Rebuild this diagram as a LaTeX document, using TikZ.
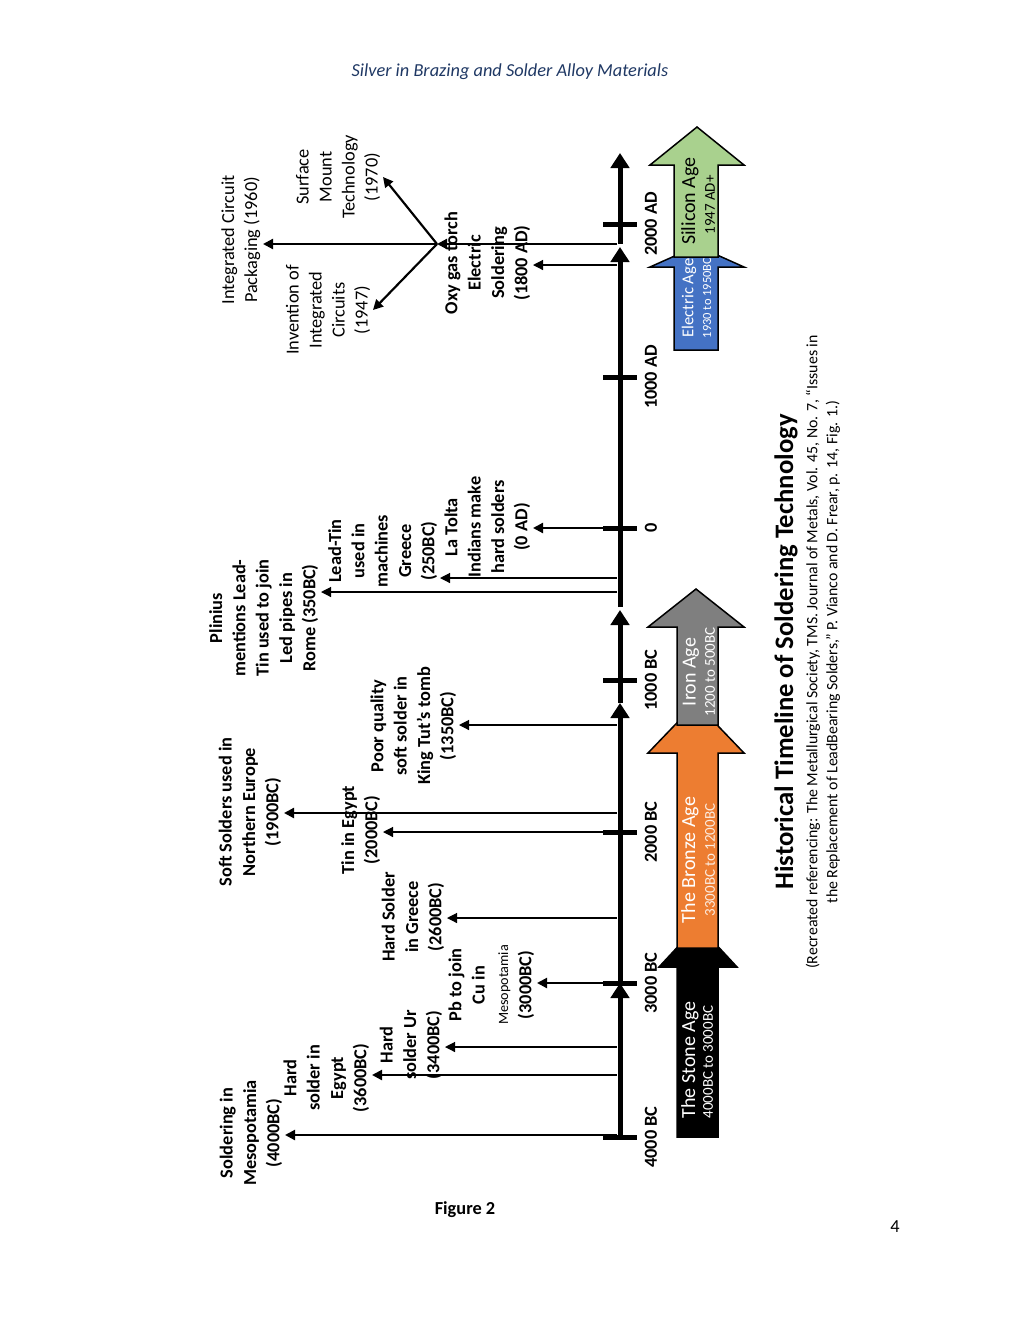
\documentclass[tikz,border=0pt]{standalone}
\usepackage{fontspec}
\setmainfont{Carlito}
\usetikzlibrary{arrows.meta}

\definecolor{bronze}{HTML}{ED7D31}
\definecolor{iron}{HTML}{7F7F7F}
\definecolor{electric}{HTML}{4472C4}
\definecolor{silicon}{HTML}{A9D18E}
\definecolor{headblue}{HTML}{1F3864}

\tikzset{
  axisseg/.style={line width=3pt,-{Triangle[length=9pt,width=11pt]}},
  tickmark/.style={line width=3pt},
  ticklbl/.style={rotate=90,font=\bfseries\fontsize{11}{13}\selectfont},
  evt/.style={line width=0.7pt,-{Triangle[length=6pt,width=6pt]}},
  evtthick/.style={line width=1.3pt,-{Triangle[length=6pt,width=6pt]}},
  lbl/.style={rotate=90,anchor=south,align=center,inner sep=1.5pt,
    font=\bfseries\fontsize{11}{14}\selectfont},
  lblreg/.style={lbl,font=\fontsize{11}{13.8}\selectfont},
  agebox/.style={draw=black,line width=0.9pt},
  agetxt/.style={rotate=90,text=white,font=\fontsize{12}{14}\selectfont},
  agesub/.style={rotate=90,text=white,font=\fontsize{9}{11}\selectfont},
}

\begin{document}
\begin{tikzpicture}[x=0.6pt,y=-0.6pt,line join=miter]
  \useasboundingbox (0,0) rectangle (1020,1320);

  % page furniture
  \node[text=headblue,font=\itshape\fontsize{11}{13}\selectfont] (head) at (510,72)
    {Silver in Brazing and Solder Alloy Materials};
  \node[font=\bfseries\fontsize{11}{13}\selectfont] (fig) at (465,1210) {Figure 2};
  \node[font=\fontsize{11}{13}\selectfont] (page) at (895,1227) {4};

  % time axis
  \draw[axisseg] (620,1137) -- (620,983);
  \draw[axisseg] (620,983) -- (620,703);
  \draw[axisseg] (620,703) -- (620,610);
  \draw[axisseg] (620,607) -- (620,247);
  \draw[axisseg] (620,244) -- (620,153);
  \foreach \yy/\txt in {1137/4000 BC,983/3000 BC,832/2000 BC,680/1000 BC,
      528/0,377/1000 AD,224/2000 AD}{
    \draw[tickmark] (603,\yy) -- (637,\yy);
    \node[ticklbl] (tk\yy) at (651,\yy) {\txt};
  }

  % ages
  \filldraw[agebox,fill=black] (677,1137) -- (677,967) -- (659,967) -- (698,925)
    -- (737,967) -- (718,967) -- (718,1137) -- cycle;
  \node[agetxt] (stone) at (690,1060) {The Stone Age};
  \node[agesub] (stonesub) at (708,1062) {4000BC to 3000BC};
  \filldraw[agebox,fill=bronze] (677,948) -- (677,753) -- (648,753) -- (696,703)
    -- (744,753) -- (718,753) -- (718,948) -- cycle;
  \node[agetxt] (bronzeage) at (690,860) {The Bronze Age};
  \node[agesub,text=white!85!bronze] (bronzesub) at (710,860) {3300BC to 1200BC};
  \filldraw[agebox,fill=iron] (677,725) -- (677,627) -- (648,627) -- (696,589)
    -- (744,627) -- (718,627) -- (718,725) -- cycle;
  \node[agetxt] (ironage) at (691,672) {Iron Age};
  \node[agesub] (ironsub) at (710,672) {1200 to 500BC};
  \filldraw[agebox,fill=electric] (674,350) -- (674,267) -- (650,267) -- (697,246)
    -- (744,267) -- (718,267) -- (718,350) -- cycle;
  \node[agetxt,font=\fontsize{10}{12}\selectfont] (elec) at (689,298) {Electric Age};
  \node[agesub,font=\fontsize{7.5}{9}\selectfont] (elecsub) at (707,298) {1930 to 1950BC};
  \filldraw[agebox,fill=silicon] (674,257) -- (674,165) -- (650,165) -- (697,127)
    -- (744,165) -- (718,165) -- (718,257) -- cycle;
  \node[agetxt,text=black] (sili) at (690,201) {Silicon Age};
  \node[agesub,text=black] (silisub) at (710,205) {1947 AD+};

  % events BC
  \coordinate (a4000) at (617,1135);
  \node[lbl] (l4000) at (285,1133) {Soldering in\\Mesopotamia\\(4000BC)};
  \draw[evtthick] (a4000) -- (a4000 -| l4000.south);
  \coordinate (a3600) at (617,1075);
  \node[lbl] (l3600) at (372,1078) {Hard\\solder in\\Egypt\\(3600BC)};
  \draw[evtthick] (a3600) -- (a3600 -| l3600.south);
  \coordinate (a3400) at (617,1047);
  \node[lbl] (l3400) at (445,1045) {Hard\\solder Ur\\(3400BC)};
  \draw[evt] (a3400) -- (a3400 -| l3400.south);
  \coordinate (a3000) at (617,983);
  \node[lbl] (l3000) at (537,985)
    {Pb to join\\Cu in\\{\mdseries\fontsize{8.5}{10}\selectfont Mesopotamia}\\(3000BC)};
  \draw[evtthick] (a3000) -- (a3000 -| l3000.south);
  \coordinate (a2600) at (617,918);
  \node[lbl] (l2600) at (447,917) {Hard Solder\\in Greece\\(2600BC)};
  \draw[evt] (a2600) -- (a2600 -| l2600.south);
  \coordinate (a2000) at (617,832);
  \node[lbl] (l2000) at (383,830) {Tin in Egypt\\(2000BC)};
  \draw[evt] (a2000) -- (a2000 -| l2000.south);
  \coordinate (a1900) at (617,813);
  \node[lbl] (l1900) at (284,812) {Soft Solders used in\\Northern Europe\\(1900BC)};
  \draw[evtthick] (a1900) -- (a1900 -| l1900.south);
  \coordinate (a1350) at (617,725);
  \node[lbl] (l1350) at (459,726) {Poor quality\\soft solder in\\King Tut’s tomb\\(1350BC)};
  \draw[evt] (a1350) -- (a1350 -| l1350.south);
  \coordinate (a350) at (617,592);
  \node[lbl] (l350) at (321,618)
    {Plinius\\mentions Lead-\\Tin used to join\\Led pipes in\\Rome (350BC)};
  \draw[evt] (a350) -- (a350 -| l350.south);
  \coordinate (a250) at (617,578);
  \node[lbl] (l250) at (440,551) {Lead-Tin\\used in\\machines\\Greece\\(250BC)};
  \draw[evt] (a250) -- (a250 -| l250.south);

  % events AD
  \coordinate (a0) at (617,528);
  \node[lbl] (l0) at (533,527) {La Tolta\\Indians make\\hard solders\\(0 AD)};
  \draw[evtthick] (a0) -- (a0 -| l0.south);
  \coordinate (a1800) at (617,265);
  \node[lbl] (l1800) at (533,263) {Oxy gas torch\\Electric\\Soldering\\(1800 AD)};
  \draw[evt] (a1800) -- (a1800 -| l1800.south);

  % circuit era
  \coordinate (a1960) at (617,244);
  \coordinate (hub) at (437,244);
  \node[lblreg] (lICP) at (263,240) {Integrated Circuit\\Packaging (1960)};
  \node[lblreg] (lSMT) at (383,177) {Surface\\Mount\\Technology\\(1970)};
  \node[lblreg] (lIIC) at (373,310) {Invention of\\Integrated\\Circuits\\(1947)};
  \draw[evtthick] (a1960) -- (hub);
  \draw[evtthick] (hub) -- (hub -| lICP.south);
  \draw[evtthick] (hub) -- (lSMT.south);
  \draw[evtthick] (hub) -- (lIIC.south);

  % caption
  \node[rotate=90,font=\bfseries\fontsize{16}{19}\selectfont] (title) at (786,652)
    {Historical Timeline of Soldering Technology};
  \node[rotate=90,align=center,font=\fontsize{9.5}{12}\selectfont] (ref) at (823,652)
    {(Recreated referencing: The Metallurgical Society, TMS. Journal of Metals, Vol. 45, No. 7,  “Issues in\\
     the Replacement of LeadBearing Solders,” P. Vianco and D. Frear, p. 14, Fig. 1.)};
\end{tikzpicture}
\end{document}
